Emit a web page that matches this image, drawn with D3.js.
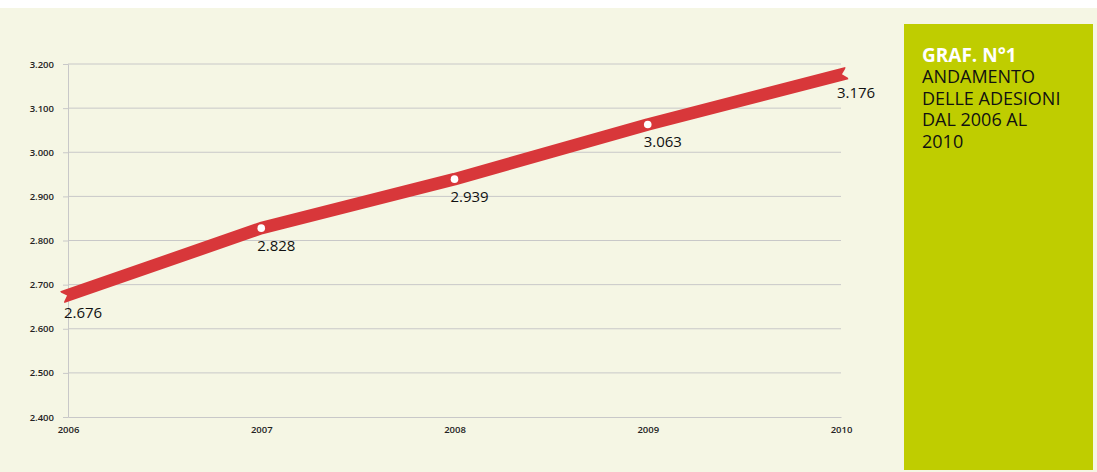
<!DOCTYPE html>
<html>
<head>
<meta charset="utf-8">
<script src="https://cdn.jsdelivr.net/npm/d3@7"></script>
<style>
  html, body { margin: 0; padding: 0; background: #ffffff; }
  svg { display: block; }
</style>
</head>
<body>
<svg id="chart" width="1097" height="472"></svg>
<script>
// Data: member count per year
const years = ["2006", "2007", "2008", "2009", "2010"];
const members = [2676, 2828, 2939, 3063, 3176];
const valueLabels = ["2.676", "2.828", "2.939", "3.063", "3.176"];
const yTicks = [2400, 2500, 2600, 2700, 2800, 2900, 3000, 3100, 3200];
const yTickLabels = ["2.400", "2.500", "2.600", "2.700", "2.800", "2.900", "3.000", "3.100", "3.200"];
const titleBold = "GRAF. N°1";
const titleLines = ["ANDAMENTO", "DELLE ADESIONI", "DAL 2006 AL", "2010"];

const svg = d3.select("#chart");
const bg = "#f5f6e4";

// page panels
svg.append("rect").attr("x", 0).attr("y", 8).attr("width", 1097).attr("height", 464).attr("fill", bg);
svg.append("rect").attr("x", 904).attr("y", 24).attr("width", 189).attr("height", 446).attr("fill", "#bfcd00");

const x = d3.scalePoint().domain(years).range([68, 841]);
const y = d3.scaleLinear().domain([2400, 3200]).range([417, 64]);

// gridlines
svg.append("g").selectAll("line").data(yTicks.slice(1)).join("line")
  .attr("x1", 68).attr("x2", 841)
  .attr("y1", d => y(d)).attr("y2", d => y(d))
  .attr("stroke", "#c8c8c8").attr("stroke-width", 1);

// y axis
const yAxis = svg.append("g").attr("transform", "translate(68,0)")
  .call(d3.axisLeft(y).tickValues(yTicks).tickSize(5).tickPadding(9)
    .tickFormat((d, i) => yTickLabels[i]));
yAxis.select(".domain").attr("stroke", "#c8c8c8");
yAxis.selectAll(".tick line").attr("stroke", "#c8c8c8");
yAxis.selectAll("text").attr("fill", "#222").style("font-family", "'Open Sans', sans-serif")
  .style("font-size", "9.5px").style("font-weight", "600");

// x axis
const xAxis = svg.append("g").attr("transform", "translate(0,417)")
  .call(d3.axisBottom(x).tickSize(0).tickPadding(9));
xAxis.select(".domain").attr("stroke", "#c8c8c8");
xAxis.selectAll("text").attr("fill", "#222").style("font-family", "'Open Sans', sans-serif")
  .style("font-size", "9.5px").style("font-weight", "600");

// main line, extended slightly past the first and last point
const pts = years.map((yr, i) => [x(yr), y(members[i])]);
function extend(a, b, len) {
  const dx = a[0] - b[0], dy = a[1] - b[1];
  const L = Math.hypot(dx, dy);
  return [a[0] + dx / L * len, a[1] + dy / L * len];
}
const ext = 6;
const start = extend(pts[0], pts[1], ext);
const end = extend(pts[pts.length - 1], pts[pts.length - 2], ext);
const linePts = [start, ...pts, end];

svg.append("path")
  .attr("d", d3.line()(linePts))
  .attr("fill", "none")
  .attr("stroke", "#d8373a")
  .attr("stroke-width", 12.5)
  .attr("stroke-linejoin", "round")
  .attr("stroke-linecap", "butt");

// ribbon notches at the two ends
function notch(tip, from, depth, half) {
  const dx = tip[0] - from[0], dy = tip[1] - from[1];
  const L = Math.hypot(dx, dy);
  const ux = dx / L, uy = dy / L;
  const nx = -uy, ny = ux;
  const ex = tip[0] + ux * depth, ey = tip[1] + uy * depth;
  return [[tip[0], tip[1]], [ex + nx * (half + 1), ey + ny * (half + 1)], [ex - nx * (half + 1), ey - ny * (half + 1)]];
}
const notches = [
  notch(extend(pts[0], pts[1], 1), pts[1], ext + 1, 6),
  notch(extend(pts[4], pts[3], 1), pts[3], ext + 1, 6)
];
svg.append("g").selectAll("polygon").data(notches).join("polygon")
  .attr("points", d => d.map(p => p.join(",")).join(" "))
  .attr("fill", bg);

// white markers on the inner points
svg.append("g").selectAll("circle").data(pts.slice(1, 4)).join("circle")
  .attr("cx", d => d[0]).attr("cy", d => d[1]).attr("r", 3.8)
  .attr("fill", "#ffffff");

// value labels
svg.append("g").selectAll("text").data(years).join("text")
  .attr("x", d => x(d) + 15)
  .attr("y", (d, i) => y(members[i]) + 23)
  .attr("text-anchor", "middle")
  .attr("fill", "#111")
  .style("font-family", "'Open Sans', sans-serif")
  .style("font-size", "15px")
  .style("font-weight", "500")
  .text((d, i) => valueLabels[i]);

// title block
svg.append("text")
  .attr("x", 922).attr("y", 62)
  .attr("fill", "#ffffff")
  .style("font-family", "'Open Sans', sans-serif")
  .style("font-weight", "700").style("font-size", "19px")
  .text(titleBold);
svg.append("g").selectAll("text").data(titleLines).join("text")
  .attr("x", 922)
  .attr("y", (d, i) => 83 + i * 21.5)
  .attr("fill", "#111")
  .style("font-family", "'Open Sans', sans-serif")
  .style("font-size", "18px").style("font-weight", "400")
  .text(d => d);
</script>
</body>
</html>
